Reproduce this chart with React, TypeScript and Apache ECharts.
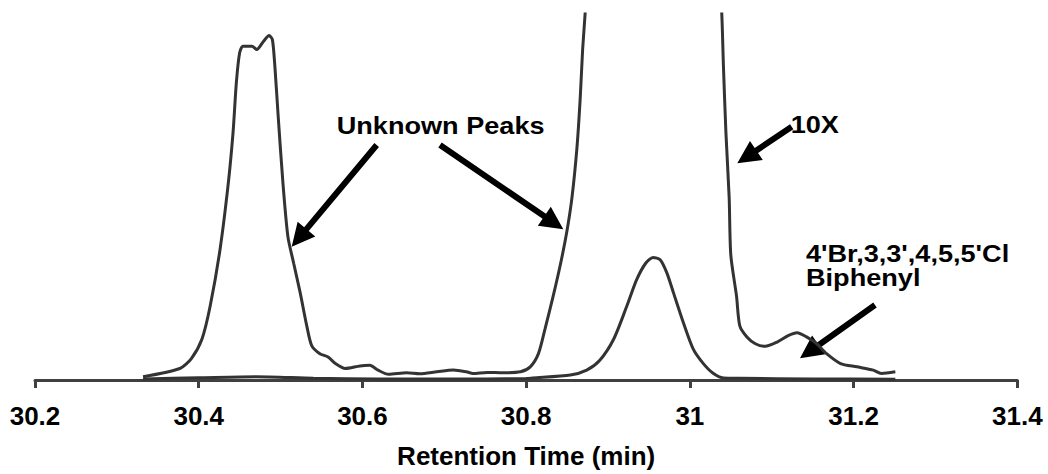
import React, { useEffect, useRef } from "react";
import * as echarts from "echarts";

// ---- Data ----
const xTickLabels = ["30.2", "30.4", "30.6", "30.8", "31", "31.2", "31.4"];

// 10X trace (runs off the top of the plot around 30.87 – 31.04 min)
const time10x = [
  30.332, 30.377, 30.391, 30.404, 30.414, 30.426, 30.436, 30.442, 30.446, 30.45,
  30.454, 30.465, 30.471, 30.479, 30.486, 30.49, 30.493, 30.497, 30.503, 30.509,
  30.516, 30.524, 30.532, 30.538, 30.548, 30.558, 30.567, 30.579, 30.597, 30.609,
  30.619, 30.632, 30.654, 30.67, 30.691, 30.711, 30.727, 30.735, 30.752, 30.772,
  30.793, 30.805, 30.815, 30.823, 30.833, 30.843, 30.85, 30.856, 30.862, 30.866,
  30.869, 30.872, 30.878, 30.9, 30.955, 31.01, 31.035, 31.039, 31.041, 31.044,
  31.048, 31.05, 31.057, 31.061, 31.07, 31.08, 31.092, 31.106, 31.12, 31.131,
  31.143, 31.155, 31.167, 31.184, 31.204, 31.224, 31.234, 31.251,
];
const signal10x = [
  0.9, 3.15, 5.85, 11.2, 20.2, 35.6, 53.5, 67.8, 81.3, 89.4,
  91.2, 91.2, 90.3, 92.5, 94.1, 93.0, 85.8, 72.3, 53.5, 39.1,
  31.9, 23.8, 14.8, 9.4, 7.2, 6.3, 4.5, 3.15, 3.85, 4.0,
  2.7, 1.54, 1.97, 1.7, 2.24, 2.7, 2.24, 1.8, 2.08, 1.97,
  2.24, 3.58, 7.2, 13.9, 22.9, 32.8, 40.9, 49.9, 63.3, 76.8,
  90.3, 100, 125, 250, 340, 250, 115, 100, 85.8, 67.8,
  49.9, 34.2, 22.9, 14.8, 11.7, 9.9, 9.2, 10.3, 12.1, 12.9,
  11.7, 9.9, 7.2, 4.5, 3.6, 2.7, 1.8, 2.24,
];

// 1X trace
const time1x = [
  30.332, 30.4, 30.47, 30.54, 30.62, 30.75, 30.8, 30.808, 30.854, 30.874,
  30.89, 30.907, 30.923, 30.935, 30.946, 30.955, 30.964, 30.972, 30.98, 30.992,
  31.004, 31.016, 31.028, 31.041, 31.061, 31.15, 31.251,
];
const signal1x = [
  0.3, 0.6, 0.9, 0.5, 0.3, 0.3, 0.4, 0.54, 1.35, 2.7,
  5.4, 11.2, 20.2, 27.4, 31.9, 33.5, 32.8, 29.2, 23.8, 15.7,
  8.5, 4.6, 1.9, 0.54, 0.46, 0.3, 0.2,
];

const annotationTexts = ["Unknown Peaks", "10X", "4'Br,3,3',4,5,5'Cl", "Biphenyl"];

const FONT = "'Liberation Sans', Arial, Helvetica, sans-serif";
const LINE_COLOR = "#333333";

function arrow(x1: number, y1: number, x2: number, y2: number) {
  const shaft = 6;
  const headLen = 23;
  const headW = 23;
  const dx = x2 - x1;
  const dy = y2 - y1;
  const L = Math.hypot(dx, dy);
  const ux = dx / L;
  const uy = dy / L;
  const nx = -uy;
  const ny = ux;
  const bx = x2 - ux * headLen;
  const by = y2 - uy * headLen;
  const s = shaft / 2;
  const h = headW / 2;
  return {
    type: "polygon",
    silent: true,
    shape: {
      points: [
        [x1 + nx * s, y1 + ny * s],
        [bx + nx * s, by + ny * s],
        [bx + nx * h, by + ny * h],
        [x2, y2],
        [bx - nx * h, by - ny * h],
        [bx - nx * s, by - ny * s],
        [x1 - nx * s, y1 - ny * s],
      ],
    },
    style: { fill: "#000" },
  };
}

function label(text: string, x: number, y: number) {
  return {
    type: "text",
    x,
    y,
    scaleX: 1.13,
    silent: true,
    style: {
      text,
      fill: "#000",
      font: `bold 24px ${FONT}`,
      textAlign: "left",
      textVerticalAlign: "middle",
    },
  };
}

export default function App() {
  const ref = useRef<HTMLDivElement>(null);

  useEffect(() => {
    if (!ref.current) return;
    const chart = echarts.init(ref.current, undefined, { renderer: "svg" });
    const d10 = time10x.map((t, i) => [t, signal10x[i]]);
    const d1 = time1x.map((t, i) => [t, signal1x[i]]);

    chart.setOption({
      animation: false,
      backgroundColor: "#fff",
      grid: { left: 35, right: 30.7, top: 14, bottom: 89 },
      xAxis: {
        type: "value",
        min: 30.2,
        max: 31.4,
        interval: 0.2,
        name: "Retention Time (min)",
        nameLocation: "middle",
        nameGap: 63,
        nameTextStyle: {
          fontFamily: FONT,
          fontWeight: "bold",
          fontSize: 26,
          color: "#000",
        },
        axisLine: { show: true, onZero: false, lineStyle: { color: "#404040", width: 3 } },
        axisTick: { show: true, inside: false, length: 8, lineStyle: { color: "#404040", width: 3 } },
        splitLine: { show: false },
        axisLabel: {
          margin: 23,
          fontFamily: FONT,
          fontWeight: "bold",
          fontSize: 26,
          color: "#000",
          formatter: (v: number) => {
            const i = Math.round((v - 30.2) / 0.2);
            return xTickLabels[i] ?? "";
          },
        },
      },
      yAxis: {
        type: "value",
        min: 0,
        max: 100,
        show: false,
        splitLine: { show: false },
      },
      series: [
        {
          type: "line",
          data: d10,
          showSymbol: false,
          smooth: 0.25,
          clip: true,
          lineStyle: { color: LINE_COLOR, width: 3 },
          z: 3,
        },
        {
          type: "line",
          data: d1,
          showSymbol: false,
          smooth: 0.25,
          clip: true,
          lineStyle: { color: LINE_COLOR, width: 3 },
          z: 3,
        },
      ],
      graphic: [
        label(annotationTexts[0], 336.7, 126),
        label(annotationTexts[1], 790.7, 125),
        label(annotationTexts[2], 806, 253.5),
        label(annotationTexts[3], 806, 278),
        arrow(376.7, 145, 291.7, 246.7),
        arrow(440, 145, 563.3, 229.3),
        arrow(791.7, 126.7, 737.3, 163.3),
        arrow(875, 305, 800, 358.3),
      ],
    });

    return () => chart.dispose();
  }, []);

  return (
    <div
      ref={ref}
      style={{ position: "fixed", left: 0, top: 0, width: 1048, height: 474, background: "#fff" }}
    />
  );
}
